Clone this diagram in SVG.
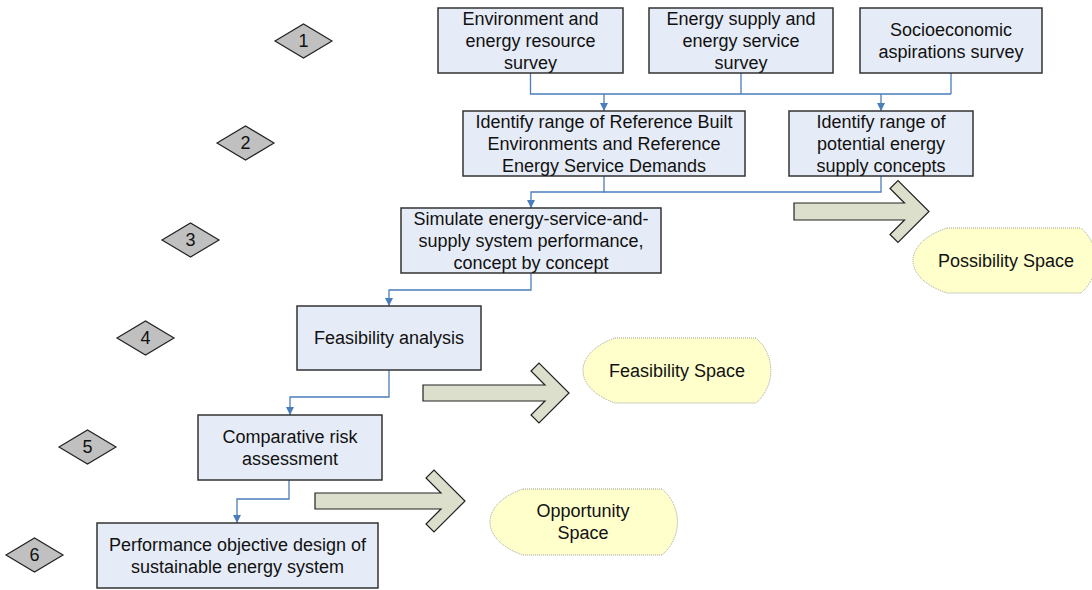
<svg xmlns="http://www.w3.org/2000/svg" width="1092" height="590" viewBox="0 0 1092 590">
<defs>
<marker id="ah" viewBox="0 0 10 10" refX="10" refY="5" markerWidth="8" markerHeight="8" markerUnits="userSpaceOnUse" orient="auto">
<path d="M0,0 L10,5 L0,10 Z" fill="#4A7EBB"/>
</marker>
<style>
.box{fill:#E6ECF7;stroke:#333;stroke-width:1.5}
.dia{fill:#C0C0C0;stroke:#222;stroke-width:1.2}
.space{fill:#FFFFCC;stroke:#888;stroke-width:0.8;stroke-dasharray:1 1}
.big{fill:#DCDFCB;stroke:#222;stroke-width:1.2}
.con{fill:none;stroke:#4A7EBB;stroke-width:1.3}
text{font-family:"Liberation Sans",Arial,sans-serif;font-size:18px;fill:#111;text-anchor:middle;dominant-baseline:central}
</style>
</defs>
<g id="connectors">
<path class="con" d="M530.5,73 V94 H951 M741,73 V94 M951,73 V94"/>
<path class="con" d="M604,94 V111" marker-end="url(#ah)"/>
<path class="con" d="M881,94 V111" marker-end="url(#ah)"/>
<path class="con" d="M604,176 V192 H881 V176"/>
<path class="con" d="M604,192 H531 V208" marker-end="url(#ah)"/>
<path class="con" d="M531,273 V290 H389 V306" marker-end="url(#ah)"/>
<path class="con" d="M389,370 V397 H290 V415" marker-end="url(#ah)"/>
<path class="con" d="M289,480 V499 H237 V523" marker-end="url(#ah)"/>
</g>
<g id="n1"><rect class="box" x="438" y="8" width="185" height="65"/><text x="530.5" y="18.5">Environment and</text><text x="530.5" y="40.5">energy resource</text><text x="530.5" y="62.5">survey</text></g>
<g id="n2"><rect class="box" x="649" y="8" width="184" height="65"/><text x="741" y="18.5">Energy supply and</text><text x="741" y="40.5">energy service</text><text x="741" y="62.5">survey</text></g>
<g id="n3"><rect class="box" x="860" y="8" width="182" height="65"/><text x="951" y="29.5">Socioeconomic</text><text x="951" y="51.5">aspirations survey</text></g>
<g id="n4"><rect class="box" x="463" y="111" width="282" height="65"/><text x="604" y="121.5">Identify range of Reference Built</text><text x="604" y="143.5">Environments and Reference</text><text x="604" y="165.5">Energy Service Demands</text></g>
<g id="n5"><rect class="box" x="789" y="111" width="184" height="65"/><text x="881" y="121.5">Identify range of</text><text x="881" y="143.5">potential energy</text><text x="881" y="165.5">supply concepts</text></g>
<g id="n6"><rect class="box" x="401" y="208" width="260" height="65"/><text x="531" y="218.5">Simulate energy-service-and-</text><text x="531" y="240.5">supply system performance,</text><text x="531" y="262.5">concept by concept</text></g>
<g id="n7"><rect class="box" x="297" y="306" width="184" height="64"/><text x="389" y="338">Feasibility analysis</text></g>
<g id="n8"><rect class="box" x="198" y="415" width="184" height="65"/><text x="290" y="436.5">Comparative risk</text><text x="290" y="458.5">assessment</text></g>
<g id="n9"><rect class="box" x="97" y="523" width="281" height="65"/><text x="237.5" y="544.5">Performance objective design of</text><text x="237.5" y="566.5">sustainable energy system</text></g>
<g id="d1"><polygon class="dia" points="275,41 303.5,24 332,41 303.5,58"/><text x="303.5" y="41">1</text></g>
<g id="d2"><polygon class="dia" points="217,143 245.5,126 274,143 245.5,160"/><text x="245.5" y="143">2</text></g>
<g id="d3"><polygon class="dia" points="162,240 190.5,223 219,240 190.5,257"/><text x="190.5" y="240">3</text></g>
<g id="d4"><polygon class="dia" points="117,338 145.5,321 174,338 145.5,355"/><text x="145.5" y="338">4</text></g>
<g id="d5"><polygon class="dia" points="59,447 87.5,430 116,447 87.5,464"/><text x="87.5" y="447">5</text></g>
<g id="d6"><polygon class="dia" points="6,555 34.5,538 63,555 34.5,572"/><text x="34.5" y="555">6</text></g>
<g id="a1"><polygon class="big" points="794,203 904.5,203 890,188.5 898,180.5 929,211.5 898,242.5 890,234.5 904.5,220 794,220"/></g>
<g id="a2"><polygon class="big" points="423,385 545,385 531,371 539,363 569,393 539,423 531,415 545,401 423,401"/></g>
<g id="a3"><polygon class="big" points="315,493 441,493 426,478 434,470 465,501 434,532 426,524 441,509 315,509"/></g>
<g id="s1"><path class="space" d="M947,228 H1081 A43 43 0 0 1 1081,293 H947 A70.5 38 0 0 1 947,228 Z"/><text x="1006" y="260.5">Possibility Space</text></g>
<g id="s2"><path class="space" d="M615,338 H756 A43 43 0 0 1 756,403 H615 A66.4 38 0 0 1 615,338 Z"/><text x="677" y="370.5">Feasibility Space</text></g>
<g id="s3"><path class="space" d="M523,489 H662 A43 43 0 0 1 662,555 H523 A65.5 38 0 0 1 523,489 Z"/><text x="583" y="511">Opportunity</text><text x="583" y="533">Space</text></g>
</svg>
